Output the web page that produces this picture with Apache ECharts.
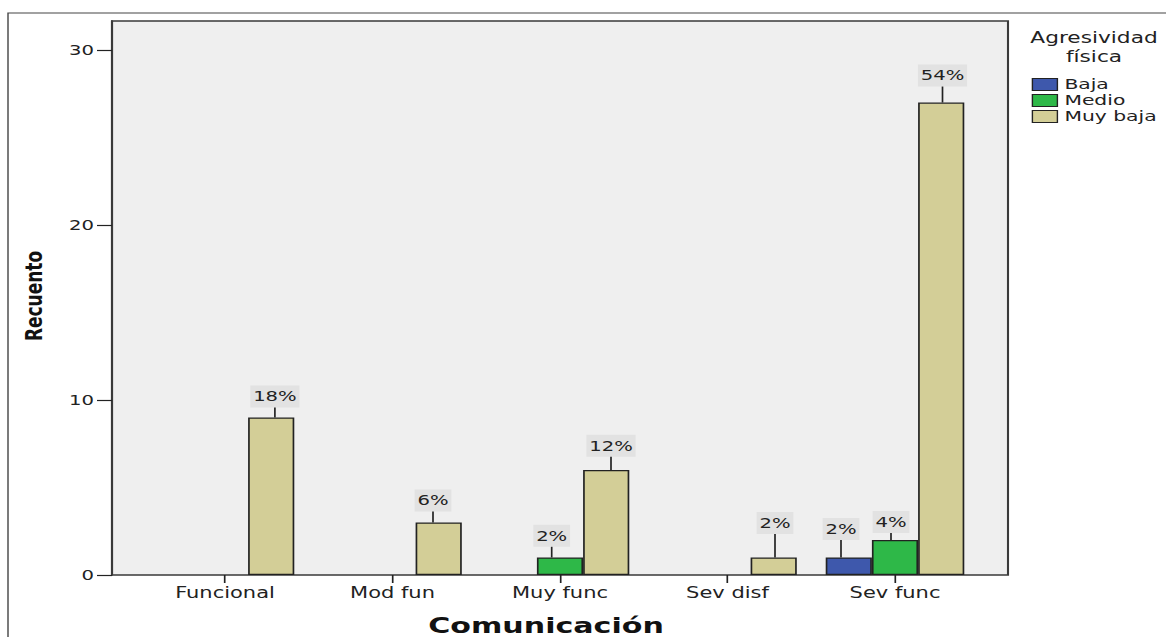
<!DOCTYPE html>
<html>
<head>
<meta charset="utf-8">
<script src="https://cdn.jsdelivr.net/npm/echarts@6/dist/echarts.min.js"></script>
<style>
html,body{margin:0;padding:0;background:#fff;overflow:hidden;width:1166px;height:637px;}
#c{position:absolute;left:0;top:0;height:637px;transform-origin:0 0;}
</style>
</head>
<body>
<div id="c"></div>
<script>
// ---- data ----
const categories = ['Funcional', 'Mod fun', 'Muy func', 'Sev disf', 'Sev func'];
const seriesNames = ['Baja', 'Medio', 'Muy baja'];
const baja    = [null, null, null, null, 1];
const medio   = [null, null, 1, null, 2];
const muyBaja = [9, 3, 6, 1, 27];
const bajaPct    = [null, null, null, null, '2%'];
const medioPct   = [null, null, '2%', null, '4%'];
const muyBajaPct = ['18%', '6%', '12%', '2%', '54%'];
const yTicks = [0, 10, 20, 30];
const xTitle = 'Comunicación';
const yTitle = 'Recuento';
const legendTitle1 = 'Agresividad';
const legendTitle2 = 'física';

// ---- layout (screen px), horizontal stretch ----
const S = 1.4;
const W = 1166 / S;
const X = v => v / S;
const BW = X(46.2);
const bajaGap = [0, 0, 0, 0, 17.5],  bajaDx = [0, 0, 0, 0, -7.8];
const medioGap = [0, 0, 10.7, 0, 7], medioDx = [0, 0, -8.3, 0, -4];
const muyBajaGap = [10, 11, 13.3, 23.5, 16], muyBajaDx = [3.7, -5.7, 4.8, 1.3, 1.3];

const FONT = 'DejaVu Sans';
const colors = ['#3e58ac', '#2eb848', '#d3ce97'];
const YMAX = 31.66;

const el = document.getElementById('c');
el.style.width = W + 'px';
el.style.transform = 'scaleX(' + S + ')';

function items(vals, gaps, dxs) {
  return vals.map((v, i) => v == null ? '-' : {
    value: v,
    label: { distance: gaps[i], offset: [X(dxs[i]), 0] }
  });
}
function mkSeries(name, vals, pct, gaps, dxs, color) {
  return {
    name: name, type: 'bar', xAxisIndex: 1, yAxisIndex: 1,
    data: items(vals, gaps, dxs),
    barWidth: BW, barGap: '0%',
    itemStyle: { color: color, borderColor: '#222', borderWidth: 1.2 },
    label: {
      show: true, position: 'top',
      formatter: p => pct[p.dataIndex],
      fontFamily: FONT, fontSize: 14, color: '#222',
      backgroundColor: '#e2e2e2', padding: [3, 2, 3, 2], lineHeight: 16
    }
  };
}
function leader(k, vals, gaps, dxs) {
  const d = [];
  vals.forEach((v, i) => { if (v != null) d.push([i, v, gaps[i], dxs[i]]); });
  return {
    type: 'custom', xAxisIndex: 1, yAxisIndex: 1, silent: true, z: 5,
    encode: { x: 0, y: 1 },
    data: d,
    renderItem: (params, api) => {
      const c = api.coord([api.value(0), api.value(1)]);
      const x = c[0] + (k - 1) * BW + X(api.value(3));
      return { type: 'line',
        shape: { x1: x, y1: c[1], x2: x, y2: c[1] - api.value(2) },
        style: { stroke: '#222', lineWidth: 1.2 } };
    }
  };
}

const chart = echarts.init(el, null, { renderer: 'svg', width: W, height: 637 });
chart.setOption({
  animation: false,
  backgroundColor: '#fff',
  textStyle: { fontFamily: FONT },
  grid: [
    { left: X(112), top: 21, width: X(896), height: 554, show: true,
      backgroundColor: '#efefef', borderColor: '#3a3a3a', borderWidth: 1.5 },
    { left: X(141.25), top: 21, width: X(837.5), height: 554 }
  ],
  xAxis: [
    { type: 'value', gridIndex: 0, min: 0, max: 1, show: false },
    { type: 'category', gridIndex: 1, data: categories,
      axisLine: { show: false },
      axisTick: { show: true, alignWithLabel: true, length: 8, lineStyle: { color: '#222', width: 1.2 } },
      axisLabel: { fontFamily: FONT, fontSize: 15, color: '#222', margin: 10 },
      splitLine: { show: false } }
  ],
  yAxis: [
    { type: 'value', gridIndex: 0, min: 0, max: YMAX, interval: 10,
      axisLine: { show: true, lineStyle: { color: '#3a3a3a', width: 1.5 } },
      axisTick: { show: true, length: X(15), customValues: yTicks, lineStyle: { color: '#222', width: 1.2 } },
      axisLabel: { fontFamily: FONT, fontSize: 14, color: '#222', margin: X(18), customValues: yTicks },
      splitLine: { show: false } },
    { type: 'value', gridIndex: 1, min: 0, max: YMAX, interval: 10, show: false, splitLine: { show: false } }
  ],
  legend: {
    data: seriesNames, orient: 'vertical', left: X(1031.7), top: 77, padding: 0,
    icon: 'rect', itemWidth: X(25), itemHeight: 12, itemGap: 1,
    itemStyle: { borderColor: '#222', borderWidth: 1 },
    textStyle: { fontFamily: FONT, fontSize: 14.5, color: '#222', lineHeight: 15 }
  },
  graphic: [
    { type: 'rect', silent: true, z: -10,
      shape: { x: X(8), y: 13, width: W + 20, height: 700 },
      style: { fill: 'none', stroke: '#444', lineWidth: 1 } },
    { type: 'text', x: X(1094), y: 38,
      style: { text: legendTitle1, align: 'center', verticalAlign: 'middle',
        font: '15.5px "DejaVu Sans"', fill: '#222' } },
    { type: 'text', x: X(1094), y: 57,
      style: { text: legendTitle2, align: 'center', verticalAlign: 'middle',
        font: '15.5px "DejaVu Sans"', fill: '#222' } },
    { type: 'text', x: X(546), y: 625.5,
      style: { text: xTitle, align: 'center', verticalAlign: 'middle',
        font: 'bold 21.5px "DejaVu Sans"', fill: '#111' } },
    { type: 'text', x: X(34), y: 296, rotation: Math.PI / 2,
      style: { text: yTitle, align: 'center', verticalAlign: 'middle',
        font: 'bold 17px "DejaVu Sans"', fill: '#111' } }
  ],
  series: [
    mkSeries(seriesNames[0], baja, bajaPct, bajaGap, bajaDx, colors[0]),
    mkSeries(seriesNames[1], medio, medioPct, medioGap, medioDx, colors[1]),
    mkSeries(seriesNames[2], muyBaja, muyBajaPct, muyBajaGap, muyBajaDx, colors[2]),
    leader(0, baja, bajaGap, bajaDx),
    leader(1, medio, medioGap, medioDx),
    leader(2, muyBaja, muyBajaGap, muyBajaDx)
  ]
});
</script>
</body>
</html>
